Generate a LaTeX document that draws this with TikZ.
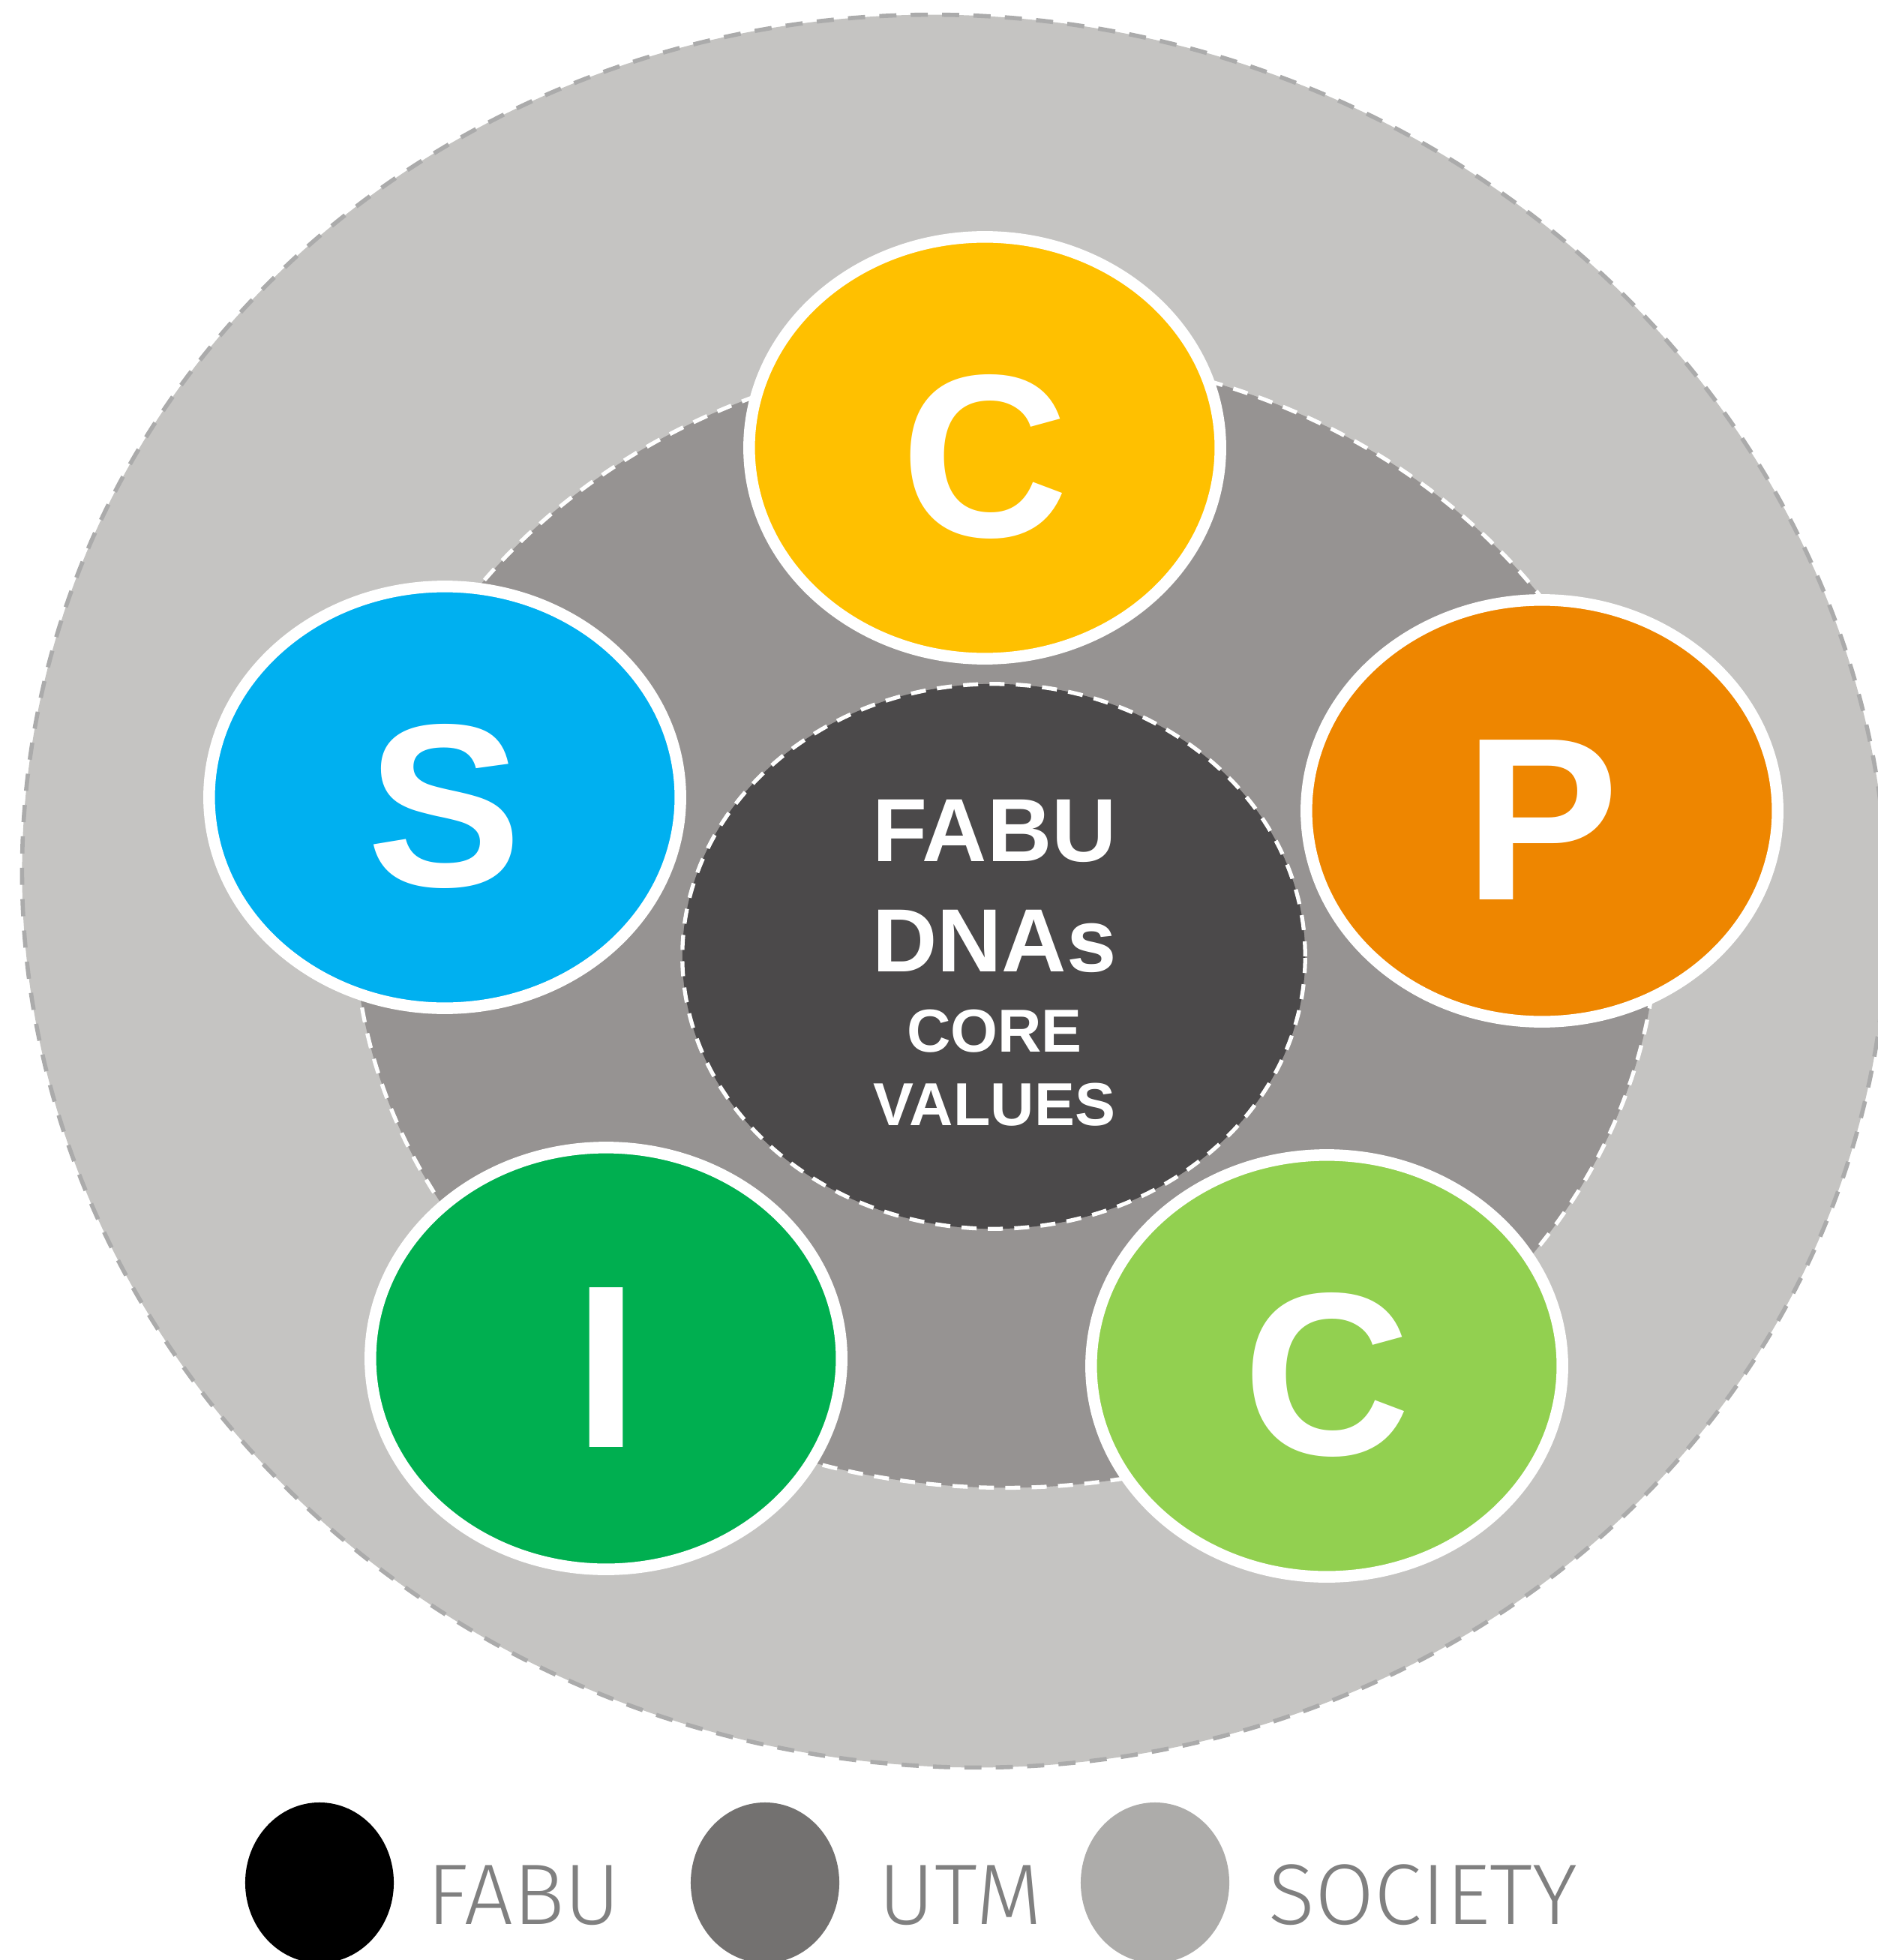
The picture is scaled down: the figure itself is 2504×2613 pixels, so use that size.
\documentclass[tikz,border=0pt]{standalone}
\usepackage{fontspec}
\setmainfont{Liberation Sans}
\newfontfamily\legendfont{Fira Sans Light}
\usetikzlibrary{shapes.geometric}
\definecolor{society}{HTML}{C5C4C2}
\definecolor{societyline}{HTML}{ABABAB}
\definecolor{utm}{HTML}{969392}
\definecolor{fabucol}{HTML}{4B494A}
\definecolor{cyellow}{HTML}{FFC000}
\definecolor{sblue}{HTML}{00B0F0}
\definecolor{porange}{HTML}{EE8600}
\definecolor{igreen}{HTML}{00AF50}
\definecolor{clgreen}{HTML}{92D050}
\definecolor{leggray}{HTML}{737170}
\definecolor{leglight}{HTML}{ADACAA}
\definecolor{legtext}{HTML}{808080}
\begin{document}
\begin{tikzpicture}[x=0.01cm,y=0.01cm,
  ring/.style={ellipse, inner sep=0pt, line width=1.5pt},
  whitedash/.style={draw=white, dash pattern=on 5.7pt off 4.3pt},
  valuebox/.style={ellipse, draw=white, line width=4.4pt, inner sep=0pt,
    minimum width=6.28cm, minimum height=5.62cm, text=white,
    text height=67.6pt, text depth=0pt,
    font=\fontsize{88}{88}\selectfont\bfseries},
  coretext/.style={anchor=base, inner sep=0pt, text=white, font=\bfseries},
  legdot/.style={ellipse, inner sep=0pt, minimum width=1.98cm, minimum height=2.14cm},
  legtxt/.style={anchor=base west, inner sep=0pt, text=legtext,
    font=\legendfont\fontsize{32.6}{32.6}\selectfont}
]
\useasboundingbox (0,0) rectangle (2504,-2613);
% rings
\node[ring, fill=society, draw=societyline, line width=1.6pt,
  dash pattern=on 6.5pt off 5.4pt, rotate=-10,
  minimum width=24.9cm, minimum height=23.3cm] (society) at (1273,-1188) {};
\node[ring, fill=utm, whitedash,
  minimum width=17.36cm, minimum height=15.12cm] (utm) at (1341,-1227) {};
\node[ring, fill=fabucol, whitedash,
  minimum width=8.3cm, minimum height=7.26cm] (fabu) at (1325,-1275) {};
% core text
\node[coretext, font=\fontsize{34}{34}\selectfont\bfseries] (t1) at (1326,-1148) {FABU};
\node[coretext, font=\fontsize{34}{34}\selectfont\bfseries] (t2) at (1326,-1295) {DNAs};
\node[coretext, font=\fontsize{23}{23}\selectfont\bfseries] (t3) at (1326,-1402) {CORE};
\node[coretext, font=\fontsize{23}{23}\selectfont\bfseries] (t4) at (1326,-1500) {VALUES};
% values
\node[valuebox, fill=cyellow] (c1) at (1313,-597) {C};
\node[valuebox, fill=sblue] (s) at (593,-1063) {S};
\node[valuebox, fill=porange] (p) at (2056,-1081) {P};
\node[valuebox, fill=igreen] (i) at (808,-1811) {I};
\node[valuebox, fill=clgreen] (c2) at (1769,-1821) {C};
% legend
\node[legdot, fill=black] (lfabu) at (426,-2510) {};
\node[legdot, fill=leggray] (lutm) at (1020,-2510) {};
\node[legdot, fill=leglight] (lsoc) at (1540,-2510) {};
\node[legtxt] (lt1) at (569,-2565) {FABU};
\node[legtxt] (lt2) at (1171,-2565) {UTM};
\node[legtxt] (lt3) at (1691,-2565) {SOCIETY};
\end{tikzpicture}
\end{document}
